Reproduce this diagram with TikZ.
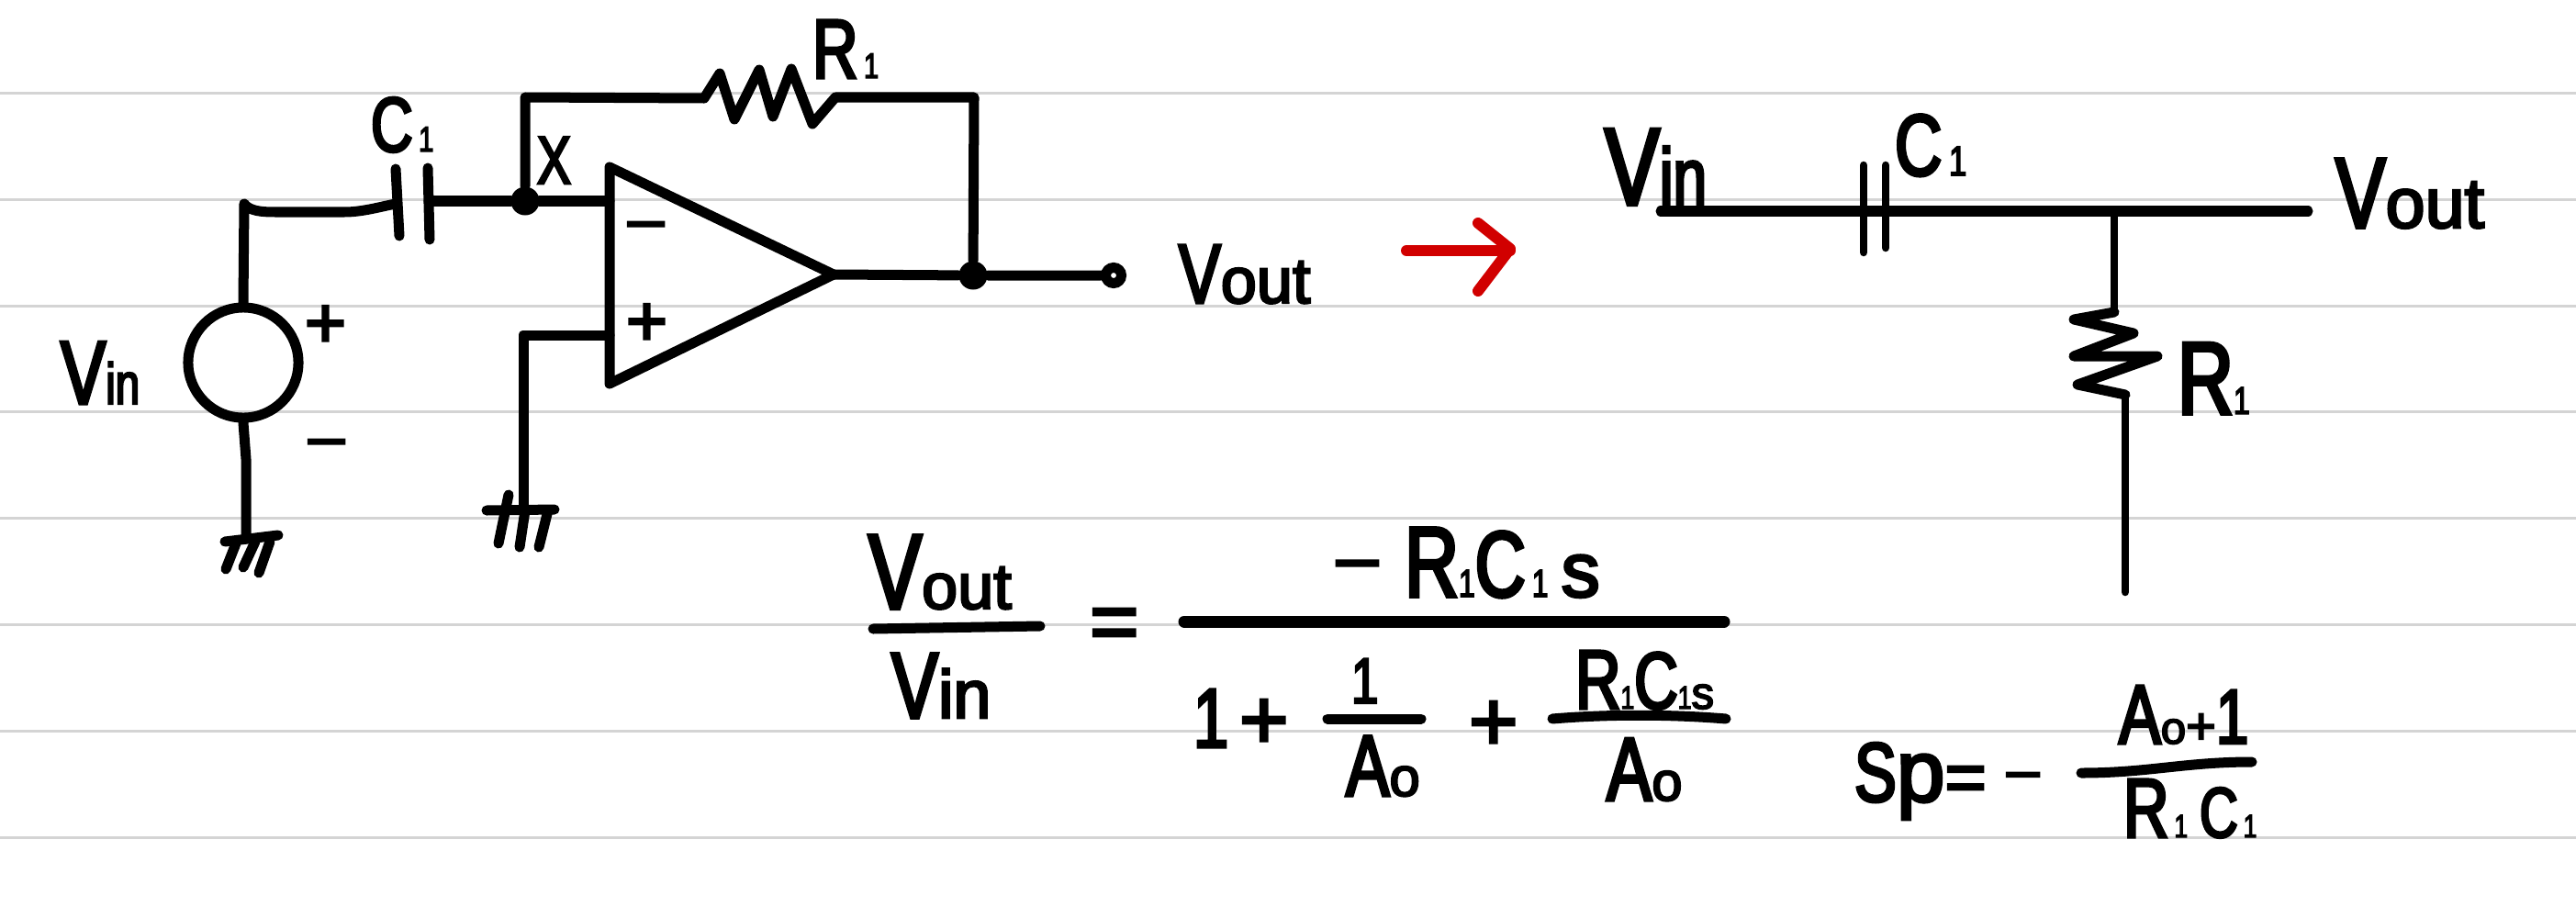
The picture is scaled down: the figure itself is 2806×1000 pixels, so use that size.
\documentclass[tikz,border=0pt]{standalone}
\usepackage{fontspec}
\newfontfamily\hand{Liberation Sans}[FakeStretch=0.75,FakeBold=3.5]
\newfontfamily\handw{Liberation Sans}[FakeStretch=1,FakeBold=3.5]
\newcommand{\T}[2]{{\fontsize{#1pt}{#1pt}\selectfont #2}}
\newcommand{\W}[2]{{\fontsize{#1pt}{#1pt}\handw #2}}
\tikzset{
  rule/.style={draw=rulegray,line width=0.03cm},
  wire/.style={draw=black,line width=0.11cm,line cap=round,line join=round},
  thin wire/.style={draw=black,line width=0.085cm,line cap=round,line join=round},
  joint/.style={circle,fill=black,inner sep=0pt,minimum size=0.31cm},
  lbl/.style={anchor=base west,inner sep=0pt,outer sep=0pt,text=black,font=\hand},
}
\definecolor{rulegray}{HTML}{D4D4D4}
\definecolor{penred}{HTML}{D10000}
\begin{document}
\begin{tikzpicture}[x=0.01cm,y=-0.01cm]
\useasboundingbox (0,0) rectangle (2806,1000);
\foreach \yy in {101,217,333,448,564,680,796,912}
  \draw[rule] (0,\yy) -- (2806,\yy);

% ---------- left circuit ----------
\node[circle,wire,inner sep=0pt,minimum size=1.2cm] (src) at (265,395) {};
\node[joint] (jx) at (572,219) {};
\node[joint] (jo) at (1060,300) {};
\node[circle,draw=black,line width=0.11cm,inner sep=0pt,minimum size=0.17cm] (term) at (1213,300) {};
\coordinate (p1t) at (431,184); \coordinate (p1b) at (435,257); \coordinate (p1m) at (431,222);
\coordinate (p2t) at (466,183); \coordinate (p2b) at (468,261); \coordinate (p2m) at (467,219);
\coordinate (oa1) at (664,182); \coordinate (oa2) at (908,299); \coordinate (oa3) at (664,418);
\coordinate (oam) at (664,219); \coordinate (oap) at (664,365);
\coordinate (gl) at (268,587); \coordinate (gr) at (570,556);
\coordinate (rA) at (572,106); \coordinate (rB) at (1061,106);

\draw[wire] (src.north) -- (266,222) .. controls (272,230) and (285,231) .. (300,231) -- (375,231) .. controls (395,231) and (415,225) .. (p1m);
\draw[wire] (p1t) -- (p1b);
\draw[wire] (p2t) -- (p2b);
\draw[wire] (p2m) -- (jx) -- (oam);
\draw[wire] (jx) -- (rA) -- (767,107) -- (784,80) -- (800,130) -- (827,76) -- (842,127) -- (862,75) -- (885,135) -- (910,106) -- (rB) -- (jo);
\draw[wire] (oa1) -- (oa2) -- (oa3) -- cycle;
\draw[wire] (oa2) -- (jo) -- (term);
\draw[wire] (oap) -- (570,365) -- (gr);
\draw[wire] (src.south) -- (268,500) -- (gl);
% grounds
\draw[wire] (530,556) -- (604,555);
\draw[wire] (554,539) -- (543,592);
\draw[wire] (572,556) -- (566,596);
\draw[wire] (597,556) -- (587,596);
\draw[wire] (245,590) -- (303,583);
\draw[wire] (257,592) -- (246,620);
\draw[wire] (278,590) -- (265,618);
\draw[wire] (294,590) -- (282,624);

\node[lbl] (lvin) at (66,440) {\T{28}{V}\T{18}{in}};
\node[lbl] (lc) at (404,165) {\T{24}{C}\T{11}{\,1}};
\node[lbl] (lr) at (885,85) {\T{26}{R}\T{11}{\,1}};
\node[lbl] (lx) at (585,200) {\T{21}{X}};
\node[lbl] (lvout) at (1284,330) {\T{26}{V}\W{20}{out}};
\node[lbl] (om) at (684,262) {\W{20}{–}};
\node[lbl] (op) at (682,376) {\W{22}{+}};
\node[lbl] (sp) at (332,378) {\W{22}{+}};
\node[lbl] (sm) at (336,499) {\W{20}{–}};

% ---------- red arrow ----------
\draw[wire,draw=penred,line width=0.12cm] (1532,273) -- (1645,273);
\draw[wire,draw=penred,line width=0.12cm] (1610,243) -- (1645,271) -- (1610,317);

% ---------- right circuit ----------
\coordinate (ml) at (1809,230); \coordinate (mr) at (2514,230);
\coordinate (mj) at (2303,230); \coordinate (rs) at (2315,645);
\draw[wire] (ml) -- (mr);
\draw[thin wire] (2030,180) -- (2030,275);
\draw[thin wire] (2054,180) -- (2054,270);
\draw[thin wire] (mj) -- (2303,340);
\draw[wire] (2303,340) -- (2259,348) -- (2324,363) -- (2259,388) -- (2350,388) -- (2263,419) -- (2315,430);
\draw[thin wire] (2315,430) -- (rs);
\node[lbl] (rvin) at (1748,223) {\T{34}{V}\T{25}{in}};
\node[lbl] (rc) at (2064,191) {\T{27}{C}\T{13}{\,1}};
\node[lbl] (rvout) at (2544,248) {\T{31}{V}\W{22}{out}};
\node[lbl] (rr) at (2372,451) {\T{32}{R}\T{12}{1}};

% ---------- equation ----------
\draw[wire] (951,685) -- (1133,682);
\draw[wire,line width=0.13cm] (1290,677) -- (1878,677);
\draw[wire] (1446,783) -- (1548,783);
\draw[wire] (1691,783) .. controls (1750,778) and (1820,778) .. (1880,783);
\draw[wire] (2267,842) .. controls (2340,842) and (2380,830) .. (2453,830);

\node[lbl] (nv) at (946,663) {\T{33}{V}\W{20}{out}};
\node[lbl] (dv) at (971,782) {\T{29}{V}\W{21}{in}};
\node[lbl] (eq) at (1187,708) {\W{26}{=}};
\node[lbl] (nm) at (1456,634) {\W{23}{–}};
\node[lbl] (num) at (1530,650) {\T{31}{R}\T{12}{1}\T{29}{C}\T{12}{\,1}\W{24}{\,s}};
\node[lbl] (d1) at (1300,814) {\T{26}{1}};
\node[lbl] (dp1) at (1350,815) {\W{26}{+}};
\node[lbl] (fa1) at (1472,766) {\T{20}{1}};
\node[lbl] (fb1) at (1466,867) {\T{27}{A}\W{17}{o}};
\node[lbl] (dp2) at (1600,817) {\W{26}{+}};
\node[lbl] (fa2) at (1716,772) {\T{26}{R}\T{10}{1}\T{25}{C}\T{10}{1}\W{14}{s}};
\node[lbl] (fb2) at (1750,872) {\T{28}{A}\W{17}{o}};
\node[lbl] (sp2) at (2020,873) {\T{26}{S}\W{27}{p}\W{22}{=}};
\node[lbl] (sm2) at (2186,860) {\W{18}{–}};
\node[lbl] (ga) at (2308,810) {\T{26}{A}\W{14}{o}\W{16}{+}\T{24}{1}};
\node[lbl] (gb) at (2313,912) {\T{26}{R}\T{10}{\,1}\T{22}{\,C}\T{10}{\,1}};
\end{tikzpicture}
\end{document}
